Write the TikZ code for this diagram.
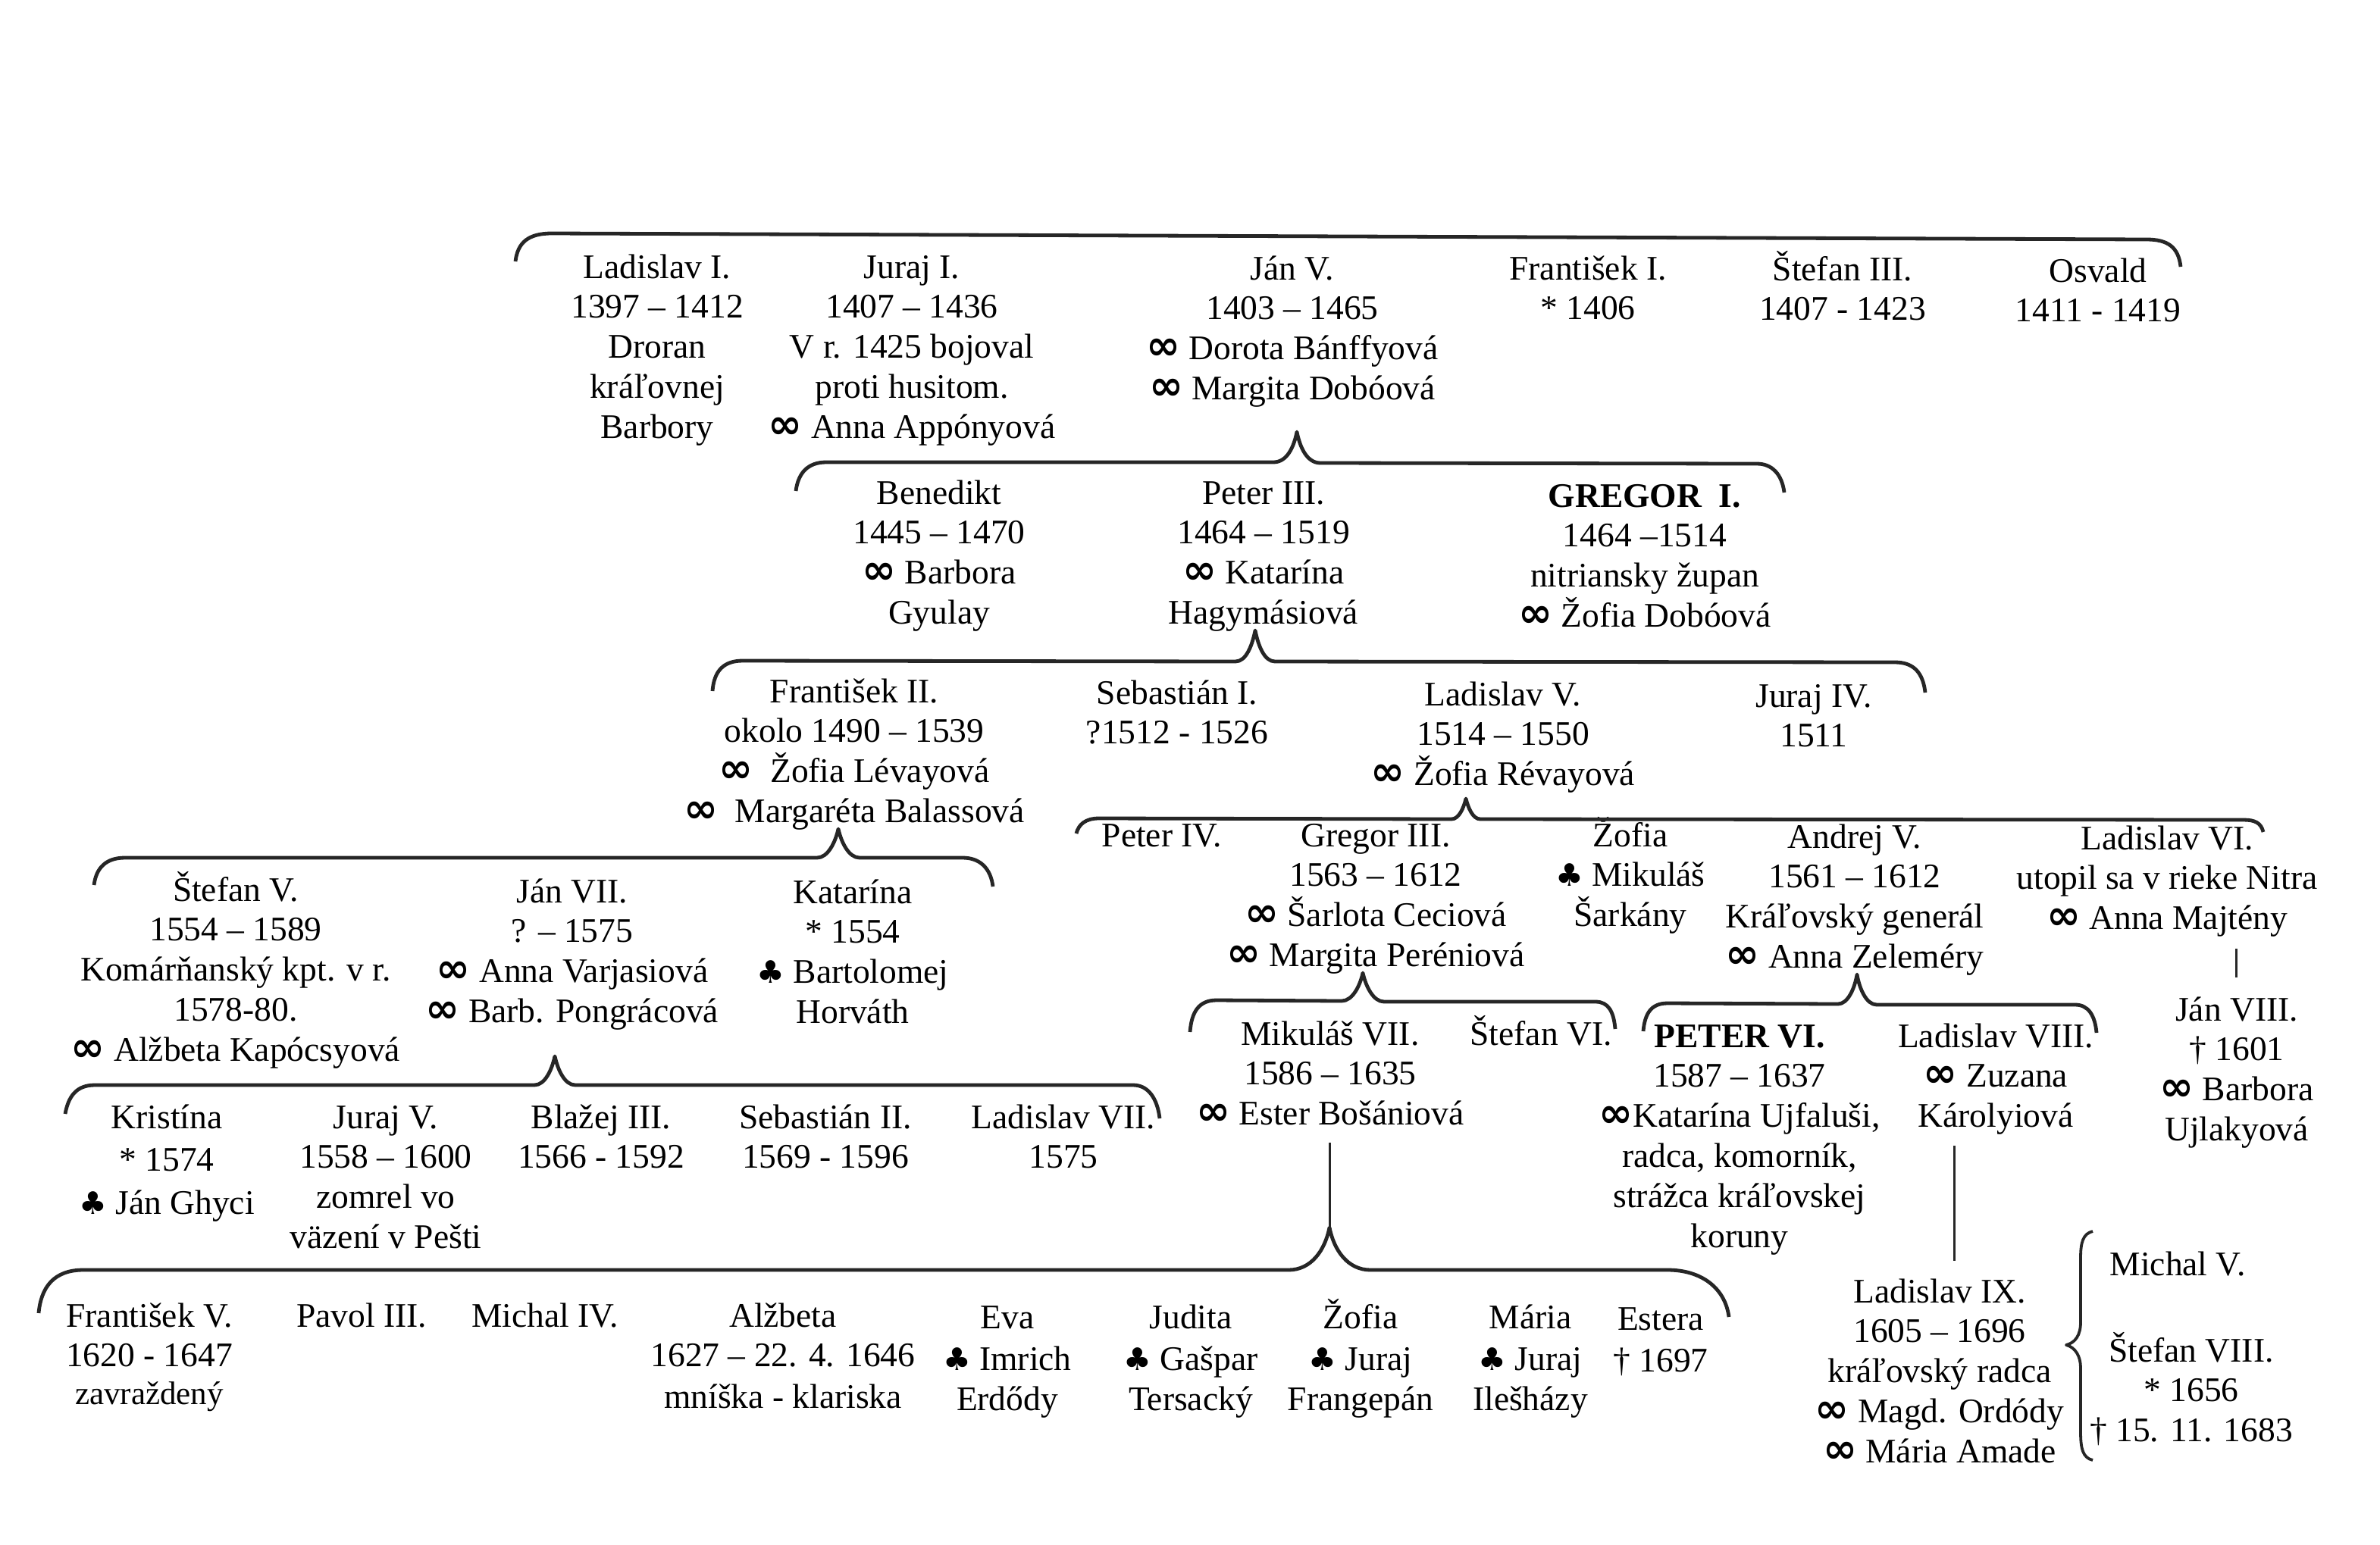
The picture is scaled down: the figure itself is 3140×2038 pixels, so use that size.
\documentclass[tikz,border=0pt]{standalone}
\usepackage{fontspec}
\setmainfont{Liberation Serif}
\newfontfamily\symfont{DejaVu Sans}
\newcommand{\mar}{{\symfont\bfseries\fontsize{54}{52}\selectfont ∞}}
\newcommand{\clb}{{\symfont\fontsize{41}{52}\selectfont ♣}}
\tikzset{
  person/.style={anchor=north, inner sep=0pt, outer sep=0pt, align=center, yshift=43pt, xshift=3pt,
    font=\fontsize{45.5}{52.8}\selectfont},
  brc/.style={line width=4.8pt, line cap=butt, line join=round, black!85},
  stem/.style={line width=3pt, black!85}
}
\newcommand{\pn}[4]{\node[person] (#1) at (#2) {\rule{0pt}{45pt}#3\\#4};}
\newcommand{\ps}[3]{\node[person] (#1) at (#2) {\rule{0pt}{45pt}#3};}
\begin{document}
\begin{tikzpicture}[x=1pt,y=-1pt]
\useasboundingbox (0,0) rectangle (3140,2038);
\fill[white] (0,0) rectangle (3140,2038);
% row 1
\pn{lad1}{864,365}{Ladislav I.}{1397 – 1412\\Droran\\kráľovnej\\Barbory}
\pn{jur1}{1200,365}{Juraj I.}{1407 – 1436\\V r. 1425 bojoval\\proti husitom.\\\mar{} Anna Appónyová}
\pn{jan5}{1702,367}{Ján V.}{1403 – 1465\\\mar{} Dorota Bánffyová\\\mar{} Margita Dobóová}
\pn{fra1}{2092,367}{František I.}{* 1406}
\pn{ste3}{2428,368}{Štefan III.}{1407 - 1423}
\pn{osv}{2765,370}{Osvald}{1411 - 1419}
% row 2
\pn{ben}{1236,663}{Benedikt}{1445 – 1470\\\mar{} Barbora\\Gyulay}
\pn{pet3}{1664,663}{Peter III.}{1464 – 1519\\\mar{} Katarína\\Hagymásiová}
\pn{gre1}{2167,667}{\textbf{GREGOR\ \ I.}}{1464 –1514\\nitriansky župan\\\mar{} Žofia Dobóová}
% row 3
\pn{fra2}{1124,925}{František II.}{okolo 1490 – 1539\\\mar{}\ \ Žofia Lévayová\\\mar{}\ \ Margaréta Balassová}
\pn{seb1}{1550,927}{Sebastián I.}{?1512 - 1526}
\pn{lad5}{1980,929}{Ladislav V.}{1514 – 1550\\\mar{} Žofia Révayová}
\pn{jur4}{2390,931}{Juraj IV.}{1511}
% row 4 right
\ps{pet4}{1530,1115}{Peter IV.}
\pn{gre3}{1812,1115}{Gregor III.}{1563 – 1612\\\mar{} Šarlota Ceciová\\\mar{} Margita Peréniová}
\pn{zof1}{2148,1115}{Žofia}{\clb{} Mikuláš\\Šarkány}
\pn{and5}{2444,1117}{Andrej V.}{1561 – 1612\\Kráľovský generál\\\mar{} Anna Zeleméry}
\pn{lad6}{2856,1119}{Ladislav VI.}{utopil sa v rieke Nitra\\\mar{} Anna Majtény}
\pn{jan8}{2948,1345}{Ján VIII.}{† 1601\\\mar{} Barbora\\Ujlakyová}
% row 4 left
\pn{ste5}{308,1187}{Štefan V.}{1554 – 1589\\Komárňanský kpt. v r.\\1578-80.\\\mar{} Alžbeta Kapócsyová}
\pn{jan7}{752,1189}{Ján VII.}{? – 1575\\\mar{} Anna Varjasiová\\\mar{} Barb. Pongrácová}
\pn{kat}{1122,1190}{Katarína}{* 1554\\\clb{} Bartolomej\\Horváth}
% row 5 left
\pn{kri}{217,1487}{Kristína}{[4pt]* 1574\\[4pt]\clb{} Ján Ghyci}
\pn{jur5}{506,1487}{Juraj V.}{1558 – 1600\\zomrel vo\\väzení v Pešti}
\pn{bla3}{790,1487}{Blažej III.}{1566 - 1592}
\pn{seb2}{1086,1487}{Sebastián II.}{1569 - 1596}
\pn{lad7}{1400,1487}{Ladislav VII.}{1575}
% row 5 right
\pn{mik7}{1752,1377}{Mikuláš VII.}{1586 – 1635\\\mar{} Ester Bošániová}
\ps{ste6}{2030,1377}{Štefan VI.}
\pn{pet6}{2292,1380}{\textbf{PETER VI.}}{1587 – 1637\\\mar{}Katarína Ujfaluši,\\radca, komorník,\\strážca kráľovskej\\koruny}
\pn{lad8}{2630,1380}{Ladislav VIII.}{\mar{} Zuzana\\Károlyiová}
% row 6
\pn{fra5}{194,1749}{František V.}{1620 - 1647\\[-3pt]{\fontsize{43}{50}\selectfont zavraždený}}
\ps{pav3}{474,1749}{Pavol III.}
\ps{mic4}{716,1749}{Michal IV.}
\pn{alz}{1030,1749}{Alžbeta}{1627 – 22. 4. 1646\\[2pt]mníška - klariska}
\pn{eva}{1326,1751}{Eva}{[3pt]\clb{} Imrich\\Erdődy}
\pn{jud}{1568,1751}{Judita}{[3pt]\clb{} Gašpar\\Tersacký}
\pn{zof2}{1792,1751}{Žofia}{[3pt]\clb{} Juraj\\Frangepán}
\pn{mar}{2016,1751}{Mária}{[3pt]\clb{} Juraj\\Ilešházy}
\pn{est}{2188,1753}{Estera}{[3pt]† 1697}
\pn{lad9}{2556,1717}{Ladislav IX.}{1605 – 1696\\kráľovský radca\\\mar{} Magd. Ordódy\\\mar{} Mária Amade}
\ps{mic5}{2870,1681}{Michal V.}
\pn{ste8}{2888,1795}{Štefan VIII.}{* 1656\\† 15. 11. 1683}
% braces
\draw[brc] (680,345) .. controls (683,320) and (697,308) .. (728,308) -- (2832,316) .. controls (2860,316) and (2874,326) .. (2877,352);
\draw[brc] (1050,648) .. controls (1053,624) and (1066,610) .. (1090,610) -- (1680,610) .. controls (1698,610) and (1707,590) .. (1711,570) .. controls (1715,590) and (1724,611) .. (1742,611) -- (2318,612) .. controls (2338,612) and (2351,626) .. (2354,650);
\draw[brc] (940,912) .. controls (942,885) and (955,872) .. (980,872) -- (1630,873) .. controls (1644,873) and (1652,852) .. (1656,832) .. controls (1660,852) and (1668,873) .. (1682,873) -- (2500,874) .. controls (2525,874) and (2537,888) .. (2540,914);
\draw[brc] (1420,1100) .. controls (1423,1088) and (1432,1080) .. (1450,1080) -- (1915,1081) .. controls (1925,1081) and (1931,1066) .. (1934,1054) .. controls (1937,1066) and (1943,1081) .. (1953,1081) -- (2960,1082) .. controls (2975,1082) and (2983,1086) .. (2986,1098);
\draw[brc] (124,1168) .. controls (127,1145) and (140,1132) .. (165,1132) -- (1078,1132) .. controls (1092,1132) and (1102,1112) .. (1106,1094) .. controls (1110,1112) and (1120,1132) .. (1134,1132) -- (1270,1132) .. controls (1293,1132) and (1307,1146) .. (1310,1170);
\draw[brc] (86,1470) .. controls (90,1448) and (100,1432) .. (125,1432) -- (705,1432) .. controls (719,1432) and (728,1412) .. (732,1394) .. controls (736,1412) and (745,1432) .. (759,1432) -- (1495,1432) .. controls (1515,1432) and (1527,1450) .. (1530,1476);
\draw[brc] (51,1733) .. controls (54,1700) and (70,1676) .. (110,1676) -- (1700,1676) .. controls (1730,1676) and (1748,1650) .. (1754,1620) .. controls (1760,1650) and (1778,1676) .. (1808,1676) -- (2200,1676) .. controls (2245,1676) and (2276,1700) .. (2281,1738);
\draw[brc] (1570,1362) .. controls (1572,1335) and (1582,1320) .. (1605,1320) -- (1770,1321) .. controls (1784,1321) and (1794,1302) .. (1798,1284) .. controls (1802,1302) and (1812,1322) .. (1826,1322) -- (2105,1322) .. controls (2122,1322) and (2129,1335) .. (2131,1358);
\draw[brc] (2168,1361) .. controls (2170,1338) and (2178,1324) .. (2200,1324) -- (2425,1325) .. controls (2438,1325) and (2447,1304) .. (2450,1286) .. controls (2453,1304) and (2462,1326) .. (2476,1326) -- (2738,1326) .. controls (2755,1326) and (2764,1340) .. (2766,1363);
\draw[brc,line width=3.8pt] (2761,1625) .. controls (2748,1628) and (2745,1640) .. (2745,1660) -- (2745,1745) .. controls (2745,1762) and (2738,1772) .. (2726,1775) .. controls (2738,1778) and (2745,1790) .. (2745,1805) -- (2745,1890) .. controls (2745,1912) and (2748,1924) .. (2761,1927);
% descent lines
\coordinate (t1) at (1754,1508);
\coordinate (t2) at (1754,1622);
\coordinate (t3) at (2578,1512);
\coordinate (t4) at (2578,1664);
\coordinate (t5) at (2950,1252);
\coordinate (t6) at (2950,1290);
\draw[stem] (t1) -- (t2);
\draw[stem] (t3) -- (t4);
\draw[stem] (t5) -- (t6);
\end{tikzpicture}
\end{document}
